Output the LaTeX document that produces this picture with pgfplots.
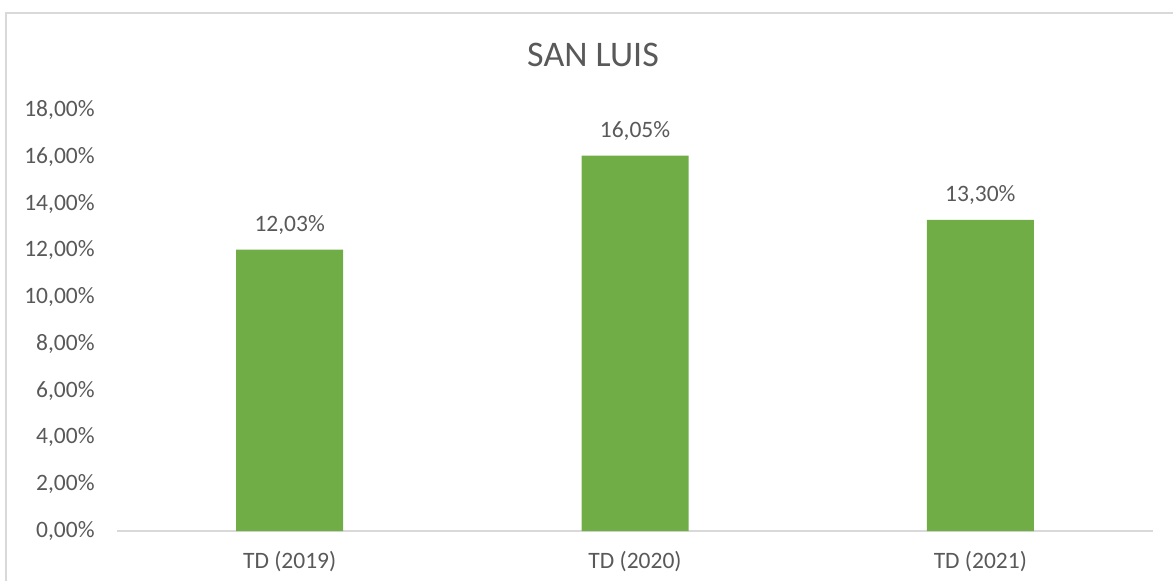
\documentclass[border=0pt]{standalone}
\usepackage{pgfplots}
\pgfplotsset{compat=1.18}
\usepackage{fontspec}
\setmainfont{Carlito}
\definecolor{barg}{HTML}{70AD47}
\definecolor{txt}{HTML}{595959}
\definecolor{ln}{HTML}{D9D9D9}
\begin{document}
\begin{tikzpicture}
\path[use as bounding box] (-58.5bp,-25bp) rectangle (528bp,265.5bp);
\draw[ln, line width=1bp] (-55.25bp,-30bp) -- (-55.25bp,259bp) -- (540bp,259bp);
\node[txt, anchor=base, inner sep=0pt, font=\fontsize{18bp}{21bp}\selectfont] at (238bp,232bp) {SAN LUIS};
\begin{axis}[
  at={(0,0)}, anchor=south west,
  scale only axis, width=518bp, height=210.5bp,
  xmin=-0.5, xmax=2.5, ymin=0, ymax=18,
  axis x line*=bottom, axis y line*=left,
  x axis line style={-, draw=ln, line width=1bp},
  y axis line style={draw=none},
  major tick length=0pt,
  xtick=data, xticklabels={TD (2019),TD (2020),TD (2021)},
  ytick={0,2,...,18},
  /pgf/number format/assume math mode=true,
  yticklabel={\pgfmathprintnumber[fixed,fixed zerofill,precision=2,use comma]{\tick}\%},
  ticklabel style={font=\fontsize{11.75bp}{14bp}\selectfont, text=txt},
  yticklabel style={anchor=east, inner sep=0pt, xshift=-11bp},
  xticklabel style={anchor=base, inner sep=0pt, yshift=-18.5bp},
  ybar, bar width=53.5bp,
  nodes near coords={\pgfmathprintnumber[fixed,fixed zerofill,precision=2,use comma]{\pgfplotspointmeta}\%},
  every node near coord/.append style={anchor=base, inner sep=0pt, yshift=9.25bp, text=txt, font=\fontsize{11.75bp}{14bp}\selectfont},
  clip=false,
]
\addplot[fill=barg, draw=none] coordinates {(0,12.03) (1,16.05) (2,13.30)};
\end{axis}
\end{tikzpicture}
\end{document}
